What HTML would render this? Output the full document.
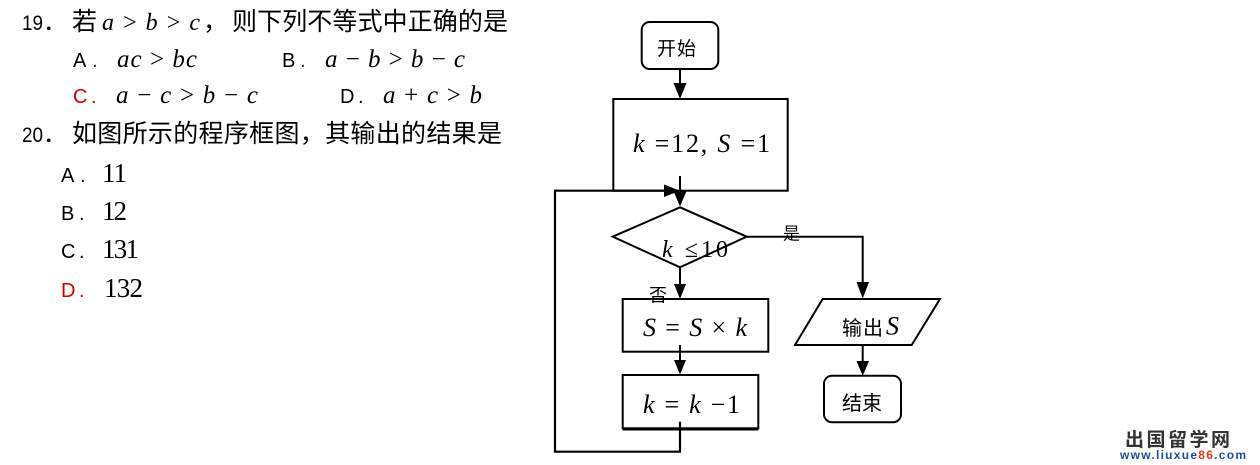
<!DOCTYPE html>
<html>
<head>
<meta charset="utf-8">
<style>
  html, body { margin: 0; padding: 0; background: #ffffff; }
  body { width: 1260px; height: 465px; overflow: hidden; }
  svg { display: block; }
  .cjk { font-family: "Liberation Sans", "Noto Sans CJK SC", "WenQuanYi Zen Hei", sans-serif; }
  .sans { font-family: "Liberation Sans", "Noto Sans CJK SC", sans-serif; }
  .math { font-family: "Liberation Serif", "DejaVu Serif", serif; }
  .it { font-style: italic; }
</style>
</head>
<body>
<svg width="1260" height="465" viewBox="0 0 1260 465" xmlns="http://www.w3.org/2000/svg">
  <rect x="0" y="0" width="1260" height="465" fill="#ffffff"/>

  <!-- Question 19 -->
  <g fill="#000">
    <text class="sans" x="22" y="30" font-size="21" textLength="21" lengthAdjust="spacingAndGlyphs">19</text>
    <text class="cjk" x="43" y="30" font-size="24">．</text>
    <text class="cjk" x="72" y="30" font-size="25">若</text>
    <text class="math" x="102" y="30" font-size="24" textLength="98"><tspan class="it">a</tspan> &gt; <tspan class="it">b</tspan> &gt; <tspan class="it">c</tspan></text>
    <text class="cjk" x="203" y="30" font-size="25">，</text>
    <text class="cjk" x="232" y="30" font-size="25" textLength="276">则下列不等式中正确的是</text>

    <text class="sans" x="73" y="67" font-size="20">A</text><text class="sans" x="92" y="67" font-size="20">.</text>
    <text class="math" x="117" y="67" font-size="25" textLength="80"><tspan class="it">ac</tspan> &gt; <tspan class="it">bc</tspan></text>
    <text class="sans" x="282" y="67" font-size="20">B</text><text class="sans" x="300" y="67" font-size="20">.</text>
    <text class="math" x="325" y="67" font-size="25" textLength="140"><tspan class="it">a</tspan> − <tspan class="it">b</tspan> &gt; <tspan class="it">b</tspan> − <tspan class="it">c</tspan></text>

    <text class="sans" x="73" y="103" font-size="20" fill="#d40000">C</text><text class="sans" x="91" y="103" font-size="20" fill="#d40000">.</text>
    <text class="math" x="116" y="103" font-size="25" textLength="142"><tspan class="it">a</tspan> − <tspan class="it">c</tspan> &gt; <tspan class="it">b</tspan> − <tspan class="it">c</tspan></text>
    <text class="sans" x="340" y="103" font-size="20">D</text><text class="sans" x="358" y="103" font-size="20">.</text>
    <text class="math" x="383" y="103" font-size="25" textLength="99"><tspan class="it">a</tspan> + <tspan class="it">c</tspan> &gt; <tspan class="it">b</tspan></text>

    <!-- Question 20 -->
    <text class="sans" x="22" y="142" font-size="21" textLength="21" lengthAdjust="spacingAndGlyphs">20</text>
    <text class="cjk" x="43" y="142" font-size="24">．</text>
    <text class="cjk" x="72" y="142" font-size="25" textLength="430">如图所示的程序框图，其输出的结果是</text>

    <text class="sans" x="61" y="182" font-size="20">A</text><text class="sans" x="80" y="182" font-size="20">.</text>
    <text class="math" x="102" y="182" font-size="27" textLength="25">11</text>
    <text class="sans" x="61" y="220" font-size="20">B</text><text class="sans" x="79" y="220" font-size="20">.</text>
    <text class="math" x="102" y="220" font-size="27" textLength="25">12</text>
    <text class="sans" x="61" y="258" font-size="20">C</text><text class="sans" x="79" y="258" font-size="20">.</text>
    <text class="math" x="102" y="258" font-size="27" textLength="37">131</text>
    <text class="sans" x="61" y="297" font-size="20" fill="#d40000">D</text><text class="sans" x="79" y="297" font-size="20" fill="#d40000">.</text>
    <text class="math" x="104" y="297" font-size="27" textLength="39">132</text>
  </g>

  <!-- Flowchart -->
  <g fill="none" stroke="#000" stroke-width="2">
    <rect x="641.7" y="22" width="76.6" height="47" rx="8" ry="8"/>
    <line x1="680" y1="69" x2="680" y2="90"/>
    <rect x="613.3" y="99" width="174.4" height="91.7"/>
    <line x1="680" y1="176" x2="680" y2="198"/>
    <polyline points="680,421.7 680,451.7 555,451.7 555,190.7 668,190.7" stroke-width="2.2"/>
    <polygon points="680,207.3 746.7,236.7 680,267.3 612.7,236.7"/>
    <line x1="680" y1="267.3" x2="680" y2="290"/>
    <polyline points="746.7,236.7 862.7,236.7 862.7,288"/>
    <rect x="622.7" y="299" width="145.6" height="52.7"/>
    <line x1="680" y1="345" x2="680" y2="365"/>
    <rect x="622.7" y="375" width="135.6" height="53.3"/>
    <line x1="622.7" y1="429" x2="758.3" y2="429" stroke-width="3"/>
    <polygon points="822.7,299 940,299 911.7,345 795,345"/>
    <line x1="862.7" y1="345" x2="862.7" y2="366"/>
    <rect x="824" y="375.7" width="77" height="46.6" rx="8" ry="8"/>
  </g>

  <g fill="#000" stroke="none">
    <polygon points="673.5,83 686.5,83 680,99"/>
    <polygon points="673.5,191 686.5,191 680,206.5"/>
    <polygon points="664,184.5 664,197 680,190.7"/>
    <polygon points="674,284 686,284 680,299"/>
    <polygon points="674,360 686,360 680,374.5"/>
    <polygon points="856.5,282 869,282 862.7,298.5"/>
    <polygon points="856.5,361 869,361 862.7,375.7"/>
  </g>

  <g fill="#000">
    <text class="cjk" x="657" y="55" font-size="19" textLength="39">开始</text>
    <text class="math" x="633" y="152" font-size="26" textLength="137"><tspan class="it">k</tspan> =12, <tspan class="it">S</tspan> =1</text>
    <text class="math" x="662" y="257" font-size="24" textLength="66"><tspan class="it">k</tspan> ≤10</text>
    <text class="cjk" x="783" y="239.5" font-size="17">是</text>
    <text class="cjk" x="649" y="301.5" font-size="18">否</text>
    <text class="math" x="643" y="336" font-size="26" textLength="104"><tspan class="it">S</tspan> = <tspan class="it">S</tspan> × <tspan class="it">k</tspan></text>
    <text class="math" x="643" y="413" font-size="26" textLength="97"><tspan class="it">k</tspan> = <tspan class="it">k</tspan> −1</text>
    <text class="cjk" x="842" y="335" font-size="20" textLength="41">输出</text>
    <text class="math it" x="886" y="334.5" font-size="26">S</text>
    <text class="cjk" x="842" y="410" font-size="20" textLength="40">结束</text>
  </g>

  <text class="cjk" x="1125" y="446" font-size="19" textLength="105" fill="#333333" font-weight="bold">出国留学网</text>
  <text class="sans" x="1120" y="459" font-size="12" font-weight="bold" textLength="126" fill="#1d4e9e">www.liuxue<tspan fill="#e03a1e">86</tspan>.com</text>
</svg>
</body>
</html>
